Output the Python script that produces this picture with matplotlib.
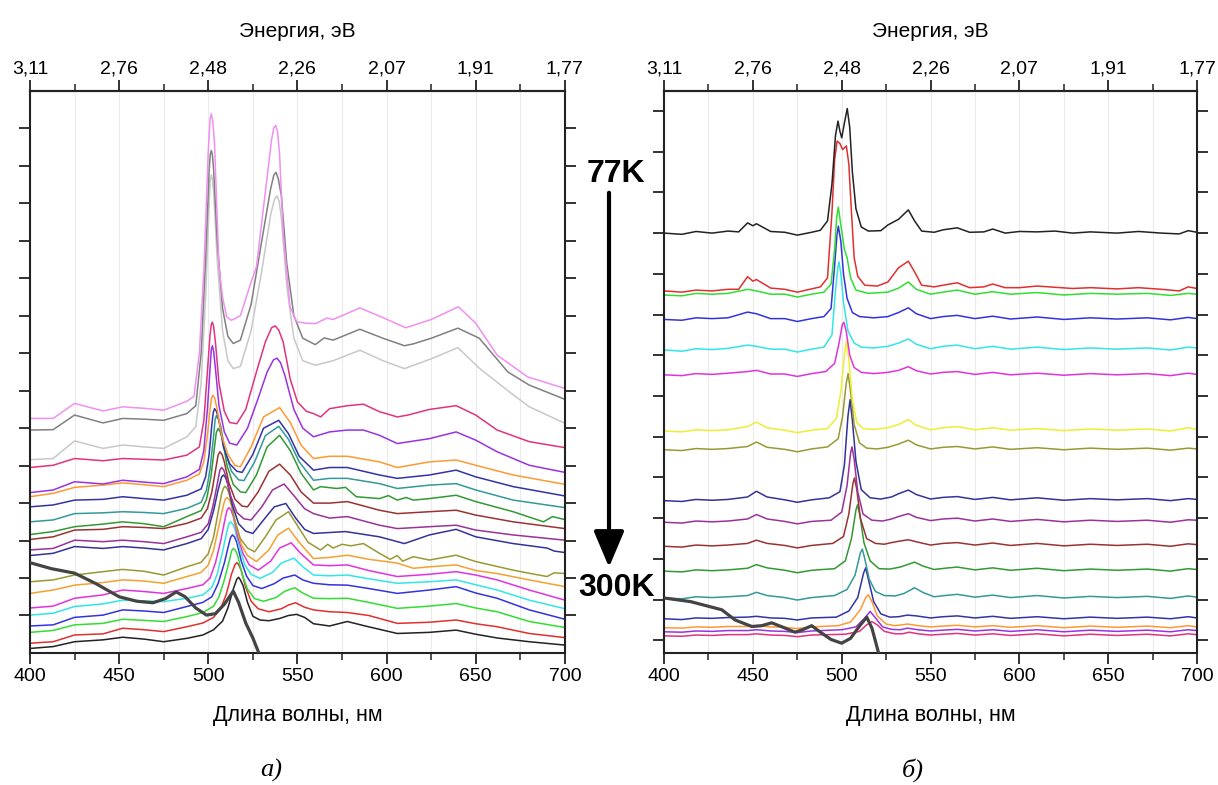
import matplotlib
matplotlib.use("Agg")
import matplotlib.pyplot as plt
from matplotlib.patches import FancyArrowPatch

plt.rcParams["font.family"] = ["Liberation Sans", "DejaVu Sans"]

WL_TICKS = [400, 450, 500, 550, 600, 650, 700]
WL_MINOR = [425, 475, 525, 575, 625, 675]
EV_LABELS = ["3,11", "2,76", "2,48", "2,26", "2,07", "1,91", "1,77"]

# ---- panel a: PL spectra, bottom (300K) to top (77K), (nm, shifted intensity)
a_black = [(400, .12), (413, .17), (425, .30), (441, .35), (452, .42), (464, .37), (475, .30),
           (488, .39), (497, .48), (503, .62), (508, .85), (511, 1.2), (514, 1.7), (516, 1.97),
           (517, 2.02), (518, 1.95), (519.5, 1.8), (522, 1.35), (525, .98), (529, .88), (534, .86),
           (540, .92), (545, 1.0), (549.5, 1.03), (554, .95), (559, .78), (568, .72), (578, .84),
           (588, .72), (606, .52), (624, .55), (639, .61), (650, .50), (662, .40), (680, .30),
           (700, .21)]
a_red = [(400, .26), (413, .30), (425, .48), (441, .51), (452, .66), (464, .62), (475, .57),
         (488, .70), (497, .80), (503, .95), (507, 1.2), (510, 1.55), (513, 2.1), (515, 2.36),
         (516, 2.41), (517, 2.36), (518.5, 2.2), (521, 1.75), (524, 1.38), (528, 1.18), (534, 1.1),
         (541, 1.18), (545, 1.28), (549, 1.34), (554, 1.22), (559, 1.15), (568, 1.1), (578, 1.08),
         (590, 1.0), (606, .79), (624, .82), (639, .88), (650, .78), (662, .70), (680, .52),
         (700, .41)]
a_green = [(400, .55), (413, .60), (425, .75), (441, .79), (452, .90), (464, .87), (475, .84),
           (488, .97), (497, 1.08), (503, 1.25), (506, 1.5), (509, 1.95), (512, 2.5), (513, 2.72),
           (514, 2.79), (515.2, 2.74), (516.5, 2.6), (519, 2.1), (522, 1.7), (526, 1.45),
           (531, 1.38), (538, 1.48), (543, 1.65), (548.5, 1.74), (553, 1.6), (559, 1.46),
           (568, 1.45), (578, 1.46), (590, 1.35), (606, 1.19), (624, 1.25), (639, 1.32),
           (650, 1.2), (662, 1.1), (680, .84), (700, .68)]
a_blue = [(400, .72), (413, .75), (425, .95), (441, 1.01), (452, 1.15), (464, 1.12), (475, 1.08),
          (488, 1.24), (497, 1.35), (502, 1.5), (505.5, 1.85), (509, 2.4), (511.5, 2.9),
          (512.5, 3.08), (513.5, 3.15), (514.7, 3.1), (516, 2.95), (518.5, 2.45), (521.5, 2.05),
          (525, 1.8), (530, 1.72), (537, 1.85), (542, 2.0), (548.5, 2.08), (553, 1.95),
          (559, 1.86), (568, 1.82), (578, 1.81), (590, 1.72), (606, 1.59), (624, 1.68),
          (639, 1.77), (650, 1.6), (662, 1.46), (680, 1.15), (700, .90)]
a_cyan = [(400, 1.01), (413, 1.06), (425, 1.24), (441, 1.31), (452, 1.41), (464, 1.39),
          (475, 1.37), (488, 1.46), (497, 1.55), (502, 1.75), (505, 2.1), (508, 2.7),
          (510.5, 3.25), (511.5, 3.44), (512.5, 3.5), (513.7, 3.44), (515, 3.3), (517.5, 2.8),
          (520.5, 2.35), (524, 2.1), (529, 1.99), (536, 2.15), (541, 2.4), (548, 2.53), (553, 2.3),
          (559, 2.08), (568, 2.06), (578, 2.08), (590, 1.98), (606, 1.86), (624, 1.9),
          (639, 1.95), (650, 1.82), (662, 1.68), (680, 1.41), (700, 1.18)]
a_magenta = [(400, 1.20), (413, 1.25), (425, 1.46), (441, 1.55), (452, 1.68), (464, 1.64),
             (475, 1.59), (488, 1.72), (497, 1.82), (501, 2.0), (504, 2.4), (507, 3.0),
             (509.5, 3.6), (510.5, 3.8), (511.5, 3.88), (512.7, 3.82), (514, 3.65), (516.5, 3.1),
             (519.5, 2.65), (523, 2.35), (528, 2.21), (535, 2.45), (540, 2.8), (546.5, 2.94),
             (552, 2.65), (559, 2.35), (568, 2.33), (578, 2.35), (590, 2.2), (606, 2.04),
             (624, 2.1), (639, 2.17), (650, 2.08), (662, 1.95), (680, 1.68), (700, 1.41)]
a_orange = [(400, 1.59), (413, 1.68), (425, 1.81), (441, 1.88), (452, 1.95), (464, 1.92),
            (475, 1.86), (488, 2.04), (496, 2.15), (500, 2.35), (503, 2.75), (506, 3.4),
            (508.5, 3.95), (509.5, 4.1), (510.5, 4.15), (511.7, 4.1), (513, 3.95), (515.5, 3.4),
            (518.5, 2.9), (522, 2.6), (527, 2.44), (534, 2.75), (539, 3.15), (545, 3.33),
            (551, 2.95), (559, 2.52), (568, 2.55), (578, 2.61), (590, 2.5), (606, 2.4), (615, 2.26),
            (624, 2.3), (639, 2.35), (650, 2.2), (662, 2.12), (680, 1.95), (700, 1.77)]
a_olive = [(400, 1.90), (413, 1.95), (425, 2.08), (441, 2.17), (452, 2.23), (464, 2.18),
           (475, 2.08), (488, 2.30), (496, 2.42), (500, 2.65), (503, 3.1), (505.5, 3.75),
           (507.5, 4.25), (508.5, 4.4), (509.5, 4.45), (510.7, 4.38), (512, 4.2), (514.5, 3.6),
           (518, 3.05), (522, 2.8), (526, 2.7), (532, 3.1), (538, 3.55), (545, 3.77), (550, 3.4),
           (556, 2.95), (563, 2.75), (567, 2.9), (570, 2.8), (575, 2.9), (580, 2.86), (587, 2.92),
           (596, 2.66), (602, 2.5), (606, 2.6), (609, 2.45), (615, 2.57), (624, 2.48), (639, 2.61),
           (650, 2.44), (671, 2.21), (683, 2.1), (690, 2.04), (694, 2.14), (700, 2.12)]
a_navy = [(400, 2.60), (413, 2.66), (425, 2.84), (441, 2.79), (452, 2.84), (464, 2.80),
          (475, 2.75), (488, 2.92), (496, 3.05), (500, 3.3), (503, 3.8), (505.5, 4.35),
          (507.5, 4.7), (508.5, 4.75), (509.7, 4.68), (511, 4.5), (513.5, 3.95), (517, 3.45),
          (521, 3.25), (525, 3.19), (531, 3.55), (537, 3.9), (543.5, 3.99), (549, 3.6),
          (554, 3.3), (559, 3.19), (577, 3.24), (596, 3.1), (610, 2.92), (624, 3.15), (639, 3.3),
          (650, 3.1), (671, 2.92), (690, 2.8), (694, 2.72), (700, 2.68)]
a_purple = [(400, 2.75), (413, 2.79), (425, 3.01), (441, 2.97), (452, 3.01), (464, 2.97),
            (475, 2.92), (488, 3.10), (496, 3.22), (500, 3.45), (502.5, 3.9), (505, 4.5),
            (506.5, 4.88), (507.5, 4.95), (508.7, 4.88), (510, 4.7), (512.5, 4.2), (516, 3.75),
            (520, 3.58), (524, 3.55), (530, 3.9), (536, 4.35), (542.5, 4.51), (548, 4.2),
            (554, 3.85), (559, 3.72), (568, 3.6), (578, 3.64), (596, 3.41), (606, 3.32),
            (624, 3.37), (639, 3.41), (650, 3.28), (671, 3.15), (700, 3.01)]
a_wine = [(400, 3.03), (413, 3.10), (425, 3.28), (441, 3.30), (452, 3.37), (464, 3.35),
          (475, 3.32), (488, 3.46), (496, 3.6), (499.5, 3.85), (502, 4.3), (504.5, 5.0),
          (505.5, 5.28), (506.5, 5.37), (507.7, 5.3), (509, 5.1), (511.5, 4.55), (515, 4.1),
          (519, 3.92), (522, 3.9), (528, 4.3), (534, 4.85), (540, 5.04), (546, 4.75), (552, 4.3),
          (559, 4.0), (568, 4.0), (578, 4.04), (596, 3.81), (606, 3.72), (624, 3.77), (639, 3.81),
          (650, 3.68), (671, 3.5), (700, 3.32)]
a_olivegreen = [(400, 3.16), (413, 3.24), (425, 3.37), (441, 3.44), (452, 3.50), (464, 3.45),
                (475, 3.37), (488, 3.64), (496, 3.8), (499, 4.1), (501.5, 4.7), (503.5, 5.5),
                (504.5, 5.88), (505.5, 5.99), (506.7, 5.9), (508, 5.7), (510.5, 5.0), (514, 4.5),
                (518, 4.3), (521, 4.28), (527, 4.75), (533, 5.5), (540, 5.81), (546, 5.4),
                (552, 4.8), (559, 4.35), (563, 4.44), (572, 4.39), (577, 4.42), (583, 4.17),
                (596, 4.12), (601, 4.2), (606, 4.08), (611, 4.15), (615, 4.08), (624, 4.12),
                (639, 4.21), (650, 4.04), (671, 3.77), (688, 3.5), (693, 3.64), (700, 3.56)]
a_dkcyan = [(400, 3.50), (413, 3.55), (425, 3.72), (441, 3.74), (452, 3.77), (464, 3.75),
            (475, 3.72), (488, 3.86), (496, 4.02), (499, 4.35), (501, 4.9), (503, 5.8),
            (503.8, 6.22), (504.5, 6.33), (505.6, 6.25), (507, 6.05), (509.5, 5.35), (513, 4.85),
            (517, 4.62), (520, 4.6), (526, 5.1), (532, 5.8), (539.5, 6.05), (545, 5.7), (551, 5.1),
            (559, 4.61), (568, 4.66), (578, 4.66), (596, 4.52), (606, 4.39), (624, 4.48),
            (639, 4.52), (650, 4.35), (671, 4.08), (700, 3.88)]
a_royal = [(400, 3.90), (413, 3.95), (425, 4.08), (441, 4.10), (452, 4.17), (464, 4.12),
           (475, 4.08), (488, 4.21), (496, 4.38), (498.5, 4.7), (500.5, 5.3), (502, 6.1),
           (502.8, 6.42), (503.5, 6.52), (504.6, 6.45), (506, 6.2), (508.5, 5.5), (512, 5.05),
           (516, 4.85), (519, 4.82), (525, 5.3), (531, 6.0), (539.5, 6.21), (545, 5.85),
           (551, 5.25), (559, 4.88), (568, 4.95), (578, 4.95), (596, 4.75), (606, 4.66),
           (624, 4.75), (639, 4.88), (650, 4.7), (671, 4.44), (700, 4.19)]
a_orange2 = [(400, 4.17), (413, 4.26), (425, 4.42), (441, 4.48), (452, 4.54), (464, 4.49),
             (475, 4.44), (488, 4.61), (495, 4.78), (497.5, 5.1), (499.5, 5.8), (501, 6.5),
             (501.8, 6.8), (502.5, 6.88), (503.6, 6.8), (505, 6.5), (507.5, 5.8), (511, 5.3),
             (515, 5.0), (518, 4.97), (524, 5.5), (531, 6.3), (540, 6.55), (546, 6.15), (552, 5.55),
             (559, 5.19), (568, 5.25), (578, 5.25), (596, 5.1), (606, 4.95), (624, 5.1),
             (639, 5.15), (650, 5.01), (671, 4.75), (700, 4.5)]
a_violet = [(400, 4.28), (413, 4.35), (425, 4.57), (441, 4.51), (452, 4.61), (464, 4.56),
            (475, 4.52), (488, 4.70), (495, 4.9), (497.5, 5.4), (499.5, 6.5), (501, 7.6),
            (501.7, 8.1), (502.3, 8.2), (503, 8.05), (504, 7.6), (506, 6.6), (509, 5.9), (512, 5.6),
            (516, 5.55), (522, 6.0), (528, 6.8), (533, 7.5), (536.5, 7.82), (538.5, 7.87),
            (540.5, 7.75), (543, 7.4), (548, 6.5), (553, 6.0), (559, 5.77), (568, 5.9),
            (578, 5.95), (587, 5.95), (596, 5.81), (606, 5.59), (624, 5.72), (639, 5.9),
            (650, 5.68), (662, 5.37), (680, 5.01), (700, 4.82)]
a_pink = [(400, 4.95), (413, 5.01), (425, 5.19), (441, 5.13), (452, 5.19), (464, 5.17),
          (475, 5.15), (488, 5.28), (495, 5.5), (497.5, 6.2), (499.5, 7.5), (501, 8.5),
          (501.7, 8.77), (502.3, 8.83), (503, 8.72), (504, 8.3), (506, 7.2), (509, 6.45),
          (512, 6.15), (516, 6.12), (521, 6.5), (527, 7.5), (532, 8.3), (535.5, 8.68),
          (537.5, 8.73), (539.5, 8.62), (542, 8.3), (546, 7.3), (550, 6.7), (555, 6.45),
          (559, 6.39), (563, 6.3), (568, 6.52), (578, 6.6), (587, 6.64), (596, 6.44), (606, 6.3),
          (612, 6.35), (624, 6.5), (639, 6.6), (650, 6.35), (662, 5.95), (680, 5.64), (700, 5.48)]
a_ltgray = [(400, 5.16), (413, 5.19), (425, 5.66), (441, 5.46), (452, 5.55), (464, 5.5),
            (475, 5.46), (488, 5.77), (493, 6.04), (496, 7.2), (498.5, 9.5), (500.5, 12.0),
            (501.1, 12.6), (501.7, 12.76), (502.3, 12.66), (503, 12.3), (505, 10.5), (508, 8.6),
            (511, 7.8), (514, 7.59), (518, 7.65), (524, 8.6), (530, 10.2), (535, 11.7),
            (537.2, 12.12), (538.5, 12.2), (539.8, 12.05), (541, 11.6), (544, 9.8), (548, 8.4),
            (553, 7.8), (560, 7.68), (570, 7.8), (585, 8.08), (598, 7.8), (610, 7.59), (625, 7.85),
            (640, 8.15), (652, 7.6), (668, 7.0), (680, 6.57), (700, 6.13)]
a_gray = [(400, 5.95), (413, 5.96), (425, 6.35), (441, 6.14), (452, 6.26), (464, 6.24),
          (475, 6.21), (488, 6.39), (493, 6.6), (496, 8.0), (498.5, 10.5), (500.5, 12.9),
          (501.1, 13.3), (501.7, 13.41), (502.3, 13.3), (503, 12.9), (505, 11.0), (508, 9.2),
          (511, 8.45), (514, 8.26), (518, 8.35), (524, 9.3), (530, 11.0), (535, 12.4),
          (536.8, 12.76), (538, 12.83), (539.3, 12.65), (541, 12.2), (544, 10.4), (548, 9.0),
          (553, 8.4), (560, 8.23), (565, 8.41), (570, 8.35), (585, 8.64), (598, 8.4), (610, 8.2),
          (615, 8.25), (625, 8.4), (640, 8.67), (652, 8.4), (668, 7.5), (680, 7.15), (700, 6.77)]
a_ltmagenta = [(400, 6.26), (413, 6.26), (425, 6.66), (441, 6.46), (452, 6.57), (464, 6.53),
               (475, 6.48), (488, 6.72), (492, 6.85), (495, 8.0), (497.6, 10.3), (500, 13.4),
               (501, 14.25), (501.7, 14.39), (502.5, 14.2), (503.5, 13.6), (506, 10.3), (508, 9.5),
               (510.3, 8.97), (513, 8.88), (518, 9.0), (524, 9.9), (527, 10.3), (532, 12.3),
               (535.5, 13.7), (536.8, 14.02), (537.8, 14.08), (538.9, 13.9), (540, 13.3),
               (542, 11.2), (545.8, 9.24), (549.6, 8.84), (555, 8.8), (560, 8.79), (566.7, 8.94),
               (570, 8.9), (585, 9.21), (598, 8.95), (610.7, 8.68), (625, 8.9), (640.3, 9.24),
               (650, 8.8), (662, 7.95), (679, 7.37), (700, 7.06)]
# absorption spectrum (thick line)
a_absorb = [(400, 2.41), (412, 2.25), (425, 2.13), (437, 1.85), (450, 1.5), (460, 1.38),
            (469, 1.34), (476, 1.45), (482, 1.63), (487, 1.5), (493, 1.2), (499, 1.01),
            (504, 1.05), (509, 1.3), (514, 1.65), (517, 1.35), (521, .8), (525, .4), (530, -.2)]

left_spectra = [
    (a_black, "#222222"), (a_red, "#e03030"), (a_green, "#33dd33"), (a_blue, "#3333dd"),
    (a_cyan, "#33e5e5"), (a_magenta, "#e033e0"), (a_orange, "#f5a030"), (a_olive, "#999933"),
    (a_navy, "#333399"), (a_purple, "#993399"), (a_wine, "#993333"), (a_olivegreen, "#339933"),
    (a_dkcyan, "#339999"), (a_royal, "#3333a8"), (a_orange2, "#ff9933"), (a_violet, "#9933e0"),
    (a_pink, "#e03380"), (a_ltgray, "#c8c8c8"), (a_gray, "#808080"), (a_ltmagenta, "#f090f0"),
]

# ---- panel b
b_pink = [(400, .11), (410, .10), (418, .13), (427, .12), (436, .14), (447, .14), (452, .16),
          (460, .13), (468, .12), (475, .09), (483, .13), (502, .15), (510, .22), (514, .38),
          (517, .46), (520, .38), (524, .22), (530, .16), (534, .16), (538, .2), (543, .16),
          (550, .13), (557, .15), (565, .17), (575, .13), (585, .16), (595, .12), (610, .16),
          (625, .11), (640, .15), (655, .12), (672, .15), (685, .11), (695, .16), (700, .14)]
b_violet = [(400, .21), (410, .20), (418, .23), (427, .22), (436, .24), (447, .24), (452, .26),
            (460, .23), (468, .22), (475, .19), (483, .23), (500, .26), (508, .33), (513, .55),
            (516, .71), (519, .55), (523, .33), (528, .27), (533, .26), (537, .3), (543, .26),
            (550, .23), (557, .25), (565, .27), (575, .23), (585, .26), (595, .22), (610, .26),
            (625, .21), (640, .25), (655, .22), (672, .25), (685, .21), (695, .26), (700, .24)]
b_orange = [(400, .31), (410, .30), (418, .33), (427, .32), (436, .34), (447, .34), (452, .36),
            (460, .33), (468, .32), (475, .29), (483, .33), (498, .36), (505, .45), (510.5, .75),
            (513.5, 1.05), (515, 1.12), (517, .95), (520, .6), (525, .4), (530, .36), (537, .4),
            (543, .36), (550, .33), (557, .35), (565, .37), (575, .33), (585, .36), (595, .32),
            (610, .36), (625, .31), (640, .35), (655, .32), (672, .35), (685, .31), (695, .36),
            (700, .33)]
b_royal = [(400, .53), (410, .51), (418, .55), (427, .54), (436, .56), (447, .57), (452, .59),
           (460, .55), (468, .54), (475, .50), (483, .55), (497, .57), (504, .72), (509, 1.05),
           (512.3, 1.65), (513.5, 1.78), (515, 1.5), (518, .95), (522, .65), (527, .57),
           (532, .58), (537, .62), (542, .6), (550, .55), (557, .58), (565, .6), (575, .55),
           (585, .59), (595, .54), (610, .58), (625, .53), (640, .57), (655, .54), (672, .57),
           (685, .53), (695, .58), (700, .55)]
b_dkcyan = [(400, 1.04), (410, 1.02), (418, 1.07), (427, 1.05), (436, 1.07), (447, 1.1),
            (452, 1.18), (458, 1.1), (468, 1.05), (475, .99), (483, 1.05), (496, 1.1),
            (503, 1.25), (507.5, 1.6), (510.5, 2.15), (511.6, 2.24), (513, 2.0), (515.5, 1.5),
            (519, 1.2), (524, 1.1), (530, 1.09), (535, 1.15), (541, 1.29), (546, 1.17),
            (552, 1.07), (558, 1.1), (565, 1.13), (575, 1.06), (585, 1.11), (595, 1.05),
            (610, 1.1), (625, 1.04), (640, 1.08), (655, 1.05), (672, 1.08), (685, 1.03),
            (695, 1.09), (700, 1.06)]
b_olivegreen = [(400, 1.70), (410, 1.68), (418, 1.73), (427, 1.71), (436, 1.73), (447, 1.77),
                (452, 1.86), (458, 1.78), (468, 1.72), (475, 1.66), (483, 1.72), (496, 1.76),
                (502, 1.95), (505.5, 2.5), (508, 3.2), (508.9, 3.33), (510.3, 3.05), (512.5, 2.4),
                (516, 1.95), (521, 1.76), (527, 1.75), (533, 1.8), (537, 1.86), (541, 1.92),
                (546, 1.82), (552, 1.74), (558, 1.77), (565, 1.8), (575, 1.73), (585, 1.78),
                (595, 1.72), (610, 1.77), (625, 1.71), (640, 1.75), (655, 1.72), (672, 1.75),
                (685, 1.70), (695, 1.76), (700, 1.74)]
b_wine = [(400, 2.31), (410, 2.29), (418, 2.34), (427, 2.32), (436, 2.34), (447, 2.38),
          (452, 2.46), (458, 2.38), (468, 2.33), (475, 2.27), (483, 2.33), (495, 2.38),
          (501, 2.55), (504, 3.1), (506.3, 3.85), (507.2, 3.99), (508.5, 3.7), (510.5, 3.0),
          (514, 2.5), (519, 2.38), (524, 2.36), (528, 2.4), (533, 2.44), (537.5, 2.47),
          (542, 2.42), (550, 2.34), (557, 2.38), (565, 2.4), (575, 2.34), (585, 2.39),
          (595, 2.33), (610, 2.38), (625, 2.32), (640, 2.36), (655, 2.33), (672, 2.36),
          (685, 2.31), (695, 2.37), (700, 2.35)]
b_purple = [(400, 2.90), (410, 2.88), (418, 2.93), (427, 2.91), (436, 2.93), (447, 2.98),
            (452, 3.09), (458, 2.98), (468, 2.92), (475, 2.86), (483, 2.92), (494, 2.95),
            (500, 3.15), (503, 3.8), (505, 4.6), (505.8, 4.75), (507, 4.45), (509, 3.65),
            (512, 3.1), (517, 2.95), (523, 2.93), (528, 2.98), (532, 3.04), (537.5, 3.11),
            (542, 3.02), (550, 2.94), (557, 2.98), (565, 3.0), (575, 2.93), (585, 2.98),
            (595, 2.92), (610, 2.97), (625, 2.91), (640, 2.95), (655, 2.92), (672, 2.95),
            (685, 2.90), (695, 2.96), (700, 2.95)]
b_navy = [(400, 3.43), (410, 3.41), (418, 3.46), (427, 3.44), (436, 3.46), (447, 3.52),
          (452, 3.66), (458, 3.52), (468, 3.45), (475, 3.39), (483, 3.45), (493, 3.5),
          (499, 3.65), (501.5, 4.3), (503.5, 5.5), (504.7, 5.91), (506, 5.4), (508, 4.4),
          (511, 3.7), (516, 3.5), (522, 3.47), (528, 3.52), (532, 3.6), (537.5, 3.69),
          (542, 3.58), (550, 3.47), (557, 3.51), (565, 3.53), (575, 3.46), (585, 3.51),
          (595, 3.45), (610, 3.5), (625, 3.44), (640, 3.48), (655, 3.45), (672, 3.48),
          (685, 3.43), (695, 3.48), (700, 3.46)]
b_olive = [(400, 4.68), (410, 4.66), (418, 4.71), (427, 4.69), (436, 4.71), (447, 4.76),
           (452, 4.87), (458, 4.74), (468, 4.69), (475, 4.63), (483, 4.7), (492, 4.75),
           (498, 4.95), (500.5, 5.5), (502.5, 6.3), (503.6, 6.55), (505, 6.1), (507, 5.3),
           (510, 4.85), (514, 4.72), (520, 4.7), (526, 4.74), (532, 4.82), (537.5, 4.915),
           (542, 4.8), (550, 4.7), (557, 4.74), (565, 4.76), (575, 4.7), (585, 4.75), (595, 4.69),
           (610, 4.73), (625, 4.68), (640, 4.72), (655, 4.69), (672, 4.72), (685, 4.67),
           (695, 4.72), (700, 4.7)]
b_yellow = [(400, 5.14), (410, 5.12), (418, 5.17), (427, 5.15), (436, 5.17), (447, 5.25),
            (452, 5.36), (458, 5.22), (468, 5.16), (475, 5.1), (483, 5.16), (492, 5.2),
            (497, 5.45), (499.5, 6.1), (501.5, 7.0), (502.6, 7.35), (504, 6.9), (506, 5.9),
            (508.5, 5.35), (512, 5.2), (518, 5.18), (526, 5.22), (532, 5.3), (537.5, 5.42),
            (542, 5.28), (550, 5.17), (557, 5.22), (565, 5.25), (575, 5.17), (585, 5.22),
            (595, 5.16), (610, 5.2), (625, 5.15), (640, 5.19), (655, 5.16), (672, 5.19),
            (685, 5.14), (695, 5.22), (700, 5.18)]
b_magenta = [(400, 6.52), (410, 6.50), (418, 6.55), (427, 6.53), (436, 6.56), (447, 6.6),
             (452, 6.63), (460, 6.54), (468, 6.54), (475, 6.48), (483, 6.55), (491, 6.6),
             (496, 6.8), (498.5, 7.3), (500.3, 7.75), (501.2, 7.81), (502.5, 7.6), (504.5, 7.0),
             (507, 6.7), (511, 6.58), (518, 6.55), (526, 6.58), (532, 6.63), (537.5, 6.72),
             (542, 6.62), (550, 6.54), (557, 6.58), (565, 6.6), (575, 6.53), (585, 6.58),
             (595, 6.52), (610, 6.56), (625, 6.51), (640, 6.55), (655, 6.52), (672, 6.55),
             (685, 6.5), (695, 6.56), (700, 6.53)]
b_cyan = [(400, 7.13), (410, 7.10), (418, 7.16), (427, 7.14), (436, 7.17), (447, 7.25),
          (452, 7.22), (460, 7.15), (468, 7.15), (475, 7.08), (483, 7.15), (490, 7.2),
          (494.5, 7.5), (496.5, 8.6), (497.8, 9.15), (498.5, 9.29), (499.5, 9.0), (501, 8.3),
          (503.5, 7.6), (507, 7.3), (511, 7.2), (518, 7.18), (526, 7.22), (532, 7.3),
          (537.5, 7.4), (542, 7.27), (550, 7.16), (557, 7.22), (565, 7.25), (575, 7.16),
          (585, 7.22), (595, 7.15), (610, 7.2), (625, 7.14), (640, 7.18), (655, 7.15),
          (672, 7.18), (685, 7.13), (695, 7.2), (700, 7.18)]
b_blue = [(400, 7.88), (410, 7.86), (418, 7.92), (427, 7.9), (436, 7.92), (447, 8.06),
          (452, 8.02), (460, 7.9), (468, 7.9), (475, 7.83), (483, 7.9), (490, 7.95), (494, 8.15),
          (496, 9.2), (497.3, 9.95), (498.1, 10.17), (499.5, 9.8), (501, 9.0), (503, 8.4),
          (506, 8.05), (510, 7.95), (518, 7.92), (526, 7.95), (532, 8.05), (537.5, 8.165),
          (542, 8.02), (550, 7.9), (557, 7.95), (565, 7.98), (575, 7.9), (585, 7.96),
          (595, 7.89), (610, 7.94), (625, 7.88), (640, 7.92), (655, 7.89), (672, 7.92),
          (685, 7.87), (695, 7.93), (700, 7.9)]
b_green = [(400, 8.48), (410, 8.46), (418, 8.52), (427, 8.5), (436, 8.52), (447, 8.62),
           (452, 8.58), (460, 8.5), (468, 8.5), (475, 8.43), (483, 8.5), (490, 8.55),
           (494, 8.75), (496, 9.6), (497.2, 10.4), (498.1, 10.64), (499.5, 10.2), (501.5, 9.6),
           (503, 9.4), (505, 8.9), (508, 8.6), (515, 8.52), (526, 8.55), (532, 8.65),
           (537.5, 8.8), (542, 8.62), (550, 8.5), (557, 8.55), (565, 8.6), (575, 8.5), (585, 8.56),
           (595, 8.5), (610, 8.54), (625, 8.48), (640, 8.52), (655, 8.5), (672, 8.52),
           (685, 8.47), (695, 8.52), (700, 8.5)]
b_red = [(400, 8.58), (410, 8.55), (418, 8.6), (427, 8.58), (436, 8.62), (442, 8.62),
         (447, 8.93), (450, 8.82), (452, 8.86), (460, 8.65), (468, 8.62), (475, 8.55),
         (483, 8.63), (488, 8.68), (492, 8.9), (494.5, 10.5), (496, 11.8), (497.4, 12.26),
         (499, 12.2), (500.5, 12.05), (502.6, 12.14), (504, 11.7), (505.5, 10.5), (507, 9.4),
         (509, 8.94), (513, 8.72), (520, 8.7), (526, 8.8), (532, 9.15), (537.5, 9.31),
         (541, 9.05), (545, 8.72), (552, 8.68), (557, 8.72), (565, 8.78), (572, 8.66),
         (580, 8.68), (585, 8.75), (592, 8.66), (600, 8.66), (610, 8.7), (620, 8.67),
         (630, 8.64), (640, 8.66), (655, 8.63), (667, 8.66), (680, 8.62), (690, 8.58),
         (695, 8.68), (700, 8.64)]
b_black = [(400, 10.0), (410, 9.97), (418, 10.04), (427, 10.0), (436, 10.05), (442, 10.03),
           (447, 10.25), (450, 10.18), (452, 10.23), (460, 10.04), (468, 10.02), (475, 9.95),
           (483, 10.02), (488, 10.07), (492, 10.3), (494.5, 11.2), (496.5, 12.4), (497.9, 12.75),
           (499, 12.5), (500, 12.34), (501.5, 12.7), (503.1, 13.06), (504.5, 12.6), (506, 11.5),
           (508, 10.6), (511, 10.15), (515, 10.05), (522, 10.06), (526, 10.2), (532, 10.34),
           (537.5, 10.57), (541, 10.3), (545, 10.05), (552, 10.02), (557, 10.08), (565, 10.13),
           (572, 10.02), (580, 10.03), (585, 10.1), (592, 10.0), (600, 10.04), (610, 10.03),
           (620, 10.05), (630, 10.0), (640, 10.03), (655, 10.0), (667, 10.04), (680, 10.0),
           (690, 9.98), (695, 10.06), (700, 10.02)]
b_absorb = [(400, 1.04), (415, .95), (432.5, .75), (440, .5), (449.4, .34), (455, .36),
            (460.6, .43), (467, .32), (473.7, .2), (478, .26), (483.1, .36), (488, .2),
            (494, .02), (500, -.07), (505, .05), (510, .35), (514.1, .57), (517, .3),
            (521, -.35)]

right_spectra = [
    (b_pink, "#e03380"), (b_violet, "#9933e0"), (b_orange, "#ff9933"), (b_royal, "#3333a8"),
    (b_dkcyan, "#339999"), (b_olivegreen, "#339933"), (b_wine, "#993333"),
    (b_purple, "#993399"), (b_navy, "#333399"), (b_olive, "#999933"), (b_yellow, "#eeee33"),
    (b_magenta, "#e033e0"), (b_cyan, "#33e5e5"), (b_blue, "#3333dd"), (b_green, "#33dd33"),
    (b_red, "#e03030"), (b_black, "#222222"),
]

fig = plt.figure(figsize=(12.18, 7.85), dpi=100)
ax_a = fig.add_axes([0.0246, 0.1682, 0.4392, 0.7159])
ax_b = fig.add_axes([0.5452, 0.1682, 0.4376, 0.7159])


def draw(ax, spectra, absorb, ylim, yticks, letter, letter_x):
    for pts, color in spectra:
        x, y = zip(*pts)
        ax.plot(x, y, color=color, lw=1.1, solid_joinstyle="round")
    x, y = zip(*absorb)
    ax.plot(x, y, color="#444444", lw=2.3, zorder=5, solid_joinstyle="round")

    ax.set_xlim(400, 700)
    ax.set_ylim(*ylim)
    ax.set_xticks(WL_TICKS)
    ax.set_xticks(WL_MINOR, minor=True)
    ax.set_yticks(yticks)
    ax.grid(axis="x", which="both", color="#ebebeb", lw=0.8)
    ax.tick_params(axis="x", which="major", direction="out", length=8, width=1.3,
                   labelsize=14, pad=3, colors="#222222", labelcolor="black")
    ax.tick_params(axis="x", which="minor", direction="out", length=5, width=1.1,
                   colors="#222222")
    ax.tick_params(axis="y", direction="out", length=8, width=1.3, left=True, right=True,
                   labelleft=False, colors="#222222")
    for s in ax.spines.values():
        s.set_linewidth(1.5)
        s.set_color("#222222")
    ax.set_xlabel("Длина волны, нм", fontsize=15.5, labelpad=14)

    top = ax.secondary_xaxis("top")
    top.set_xticks(WL_TICKS, EV_LABELS)
    top.set_xticks(WL_MINOR, minor=True)
    top.tick_params(axis="x", which="major", direction="out", length=8, width=1.3,
                    labelsize=14, pad=1.5, colors="#222222", labelcolor="black")
    top.tick_params(axis="x", which="minor", direction="out", length=5, width=1.1,
                    colors="#222222")
    top.spines["top"].set_linewidth(1.5)
    top.set_xlabel("Энергия, эВ", fontsize=15, labelpad=17)

    fig.text(letter_x, 0.019, letter, fontsize=19, style="italic",
             family=["Liberation Serif", "DejaVu Serif"], ha="center", va="center")


draw(ax_a, left_spectra, a_absorb, (0, 15), range(1, 15), "а)", 0.2225)
draw(ax_b, right_spectra, b_absorb, (-0.31, 13.49), range(0, 14), "б)", 0.7496)

# temperature arrow between the panels
fig.text(0.5057, 0.7783, "77K", fontsize=23, fontweight="bold", ha="center", va="center")
fig.text(0.5066, 0.251, "300K", fontsize=23, fontweight="bold", ha="center", va="center")
arrow = FancyArrowPatch((609 / 1218, 1 - 190 / 785), (609 / 1218, 1 - 570 / 785),
                        transform=fig.transFigure,
                        arrowstyle="-|>,head_width=0.55,head_length=1.3",
                        mutation_scale=17, lw=3.0, color="black")
fig.patches.append(arrow)

fig.savefig("out.png", dpi=100)
